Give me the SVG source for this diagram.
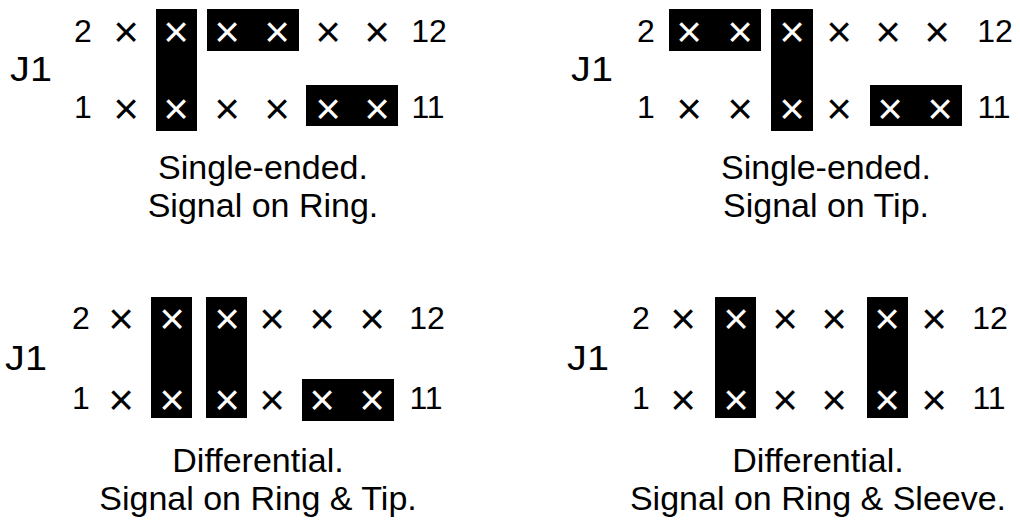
<svg xmlns="http://www.w3.org/2000/svg" width="1020" height="524" viewBox="0 0 1020 524">
<style>
text { font-family: "Liberation Sans", Arial, sans-serif; fill: #000; }
.d { font-size: 32px; text-anchor: middle; dominant-baseline: central; }
.j { font-size: 36px; text-anchor: middle; dominant-baseline: central; }
.x { font-size: 44px; text-anchor: middle; dominant-baseline: central; }
.w { fill: #fff; }
.cap { font-size: 34px; text-anchor: middle; }
.box { fill: #000; }
</style>
<rect width="1020" height="524" fill="#fff"/>

<g id="panel-tl">
  <rect class="box" x="156" y="9" width="41" height="122"/>
  <rect class="box" x="207" y="9" width="92" height="42"/>
  <rect class="box" x="306" y="85" width="92" height="41"/>
  <text class="j" transform="translate(31 69) scale(1.1 1)">J1</text>
  <text class="d" x="83" y="31">2</text>
  <text class="d" x="83" y="107">1</text>
  <text class="d" x="429" y="31">12</text>
  <text class="d" x="428" y="107">11</text>
  <text class="x" x="126" y="31">×</text>
  <text class="x w" x="176" y="31">×</text>
  <text class="x w" x="227" y="31">×</text>
  <text class="x w" x="277" y="31">×</text>
  <text class="x" x="328" y="31">×</text>
  <text class="x" x="377" y="31">×</text>
  <text class="x" x="126" y="108">×</text>
  <text class="x w" x="176" y="108">×</text>
  <text class="x" x="227" y="108">×</text>
  <text class="x" x="277" y="108">×</text>
  <text class="x w" x="328" y="108">×</text>
  <text class="x w" x="377" y="108">×</text>
  <text class="cap" x="263" y="179">Single-ended.</text>
  <text class="cap" x="263" y="217">Signal on Ring.</text>
</g>

<g id="panel-tr">
  <rect class="box" x="669" y="9" width="92" height="42"/>
  <rect class="box" x="771" y="9" width="42" height="122"/>
  <rect class="box" x="870" y="85" width="92" height="41"/>
  <text class="j" transform="translate(592 69) scale(1.1 1)">J1</text>
  <text class="d" x="646" y="31">2</text>
  <text class="d" x="646" y="107">1</text>
  <text class="d" x="995" y="31">12</text>
  <text class="d" x="994" y="107">11</text>
  <text class="x w" x="689" y="31">×</text>
  <text class="x w" x="740" y="31">×</text>
  <text class="x w" x="792" y="31">×</text>
  <text class="x" x="839" y="31">×</text>
  <text class="x" x="888" y="31">×</text>
  <text class="x" x="937" y="31">×</text>
  <text class="x" x="689" y="108">×</text>
  <text class="x" x="740" y="108">×</text>
  <text class="x w" x="792" y="108">×</text>
  <text class="x" x="839" y="108">×</text>
  <text class="x w" x="890" y="108">×</text>
  <text class="x w" x="940" y="108">×</text>
  <text class="cap" x="826" y="179">Single-ended.</text>
  <text class="cap" x="826" y="217">Signal on Tip.</text>
</g>

<g id="panel-bl">
  <rect class="box" x="151" y="297" width="41" height="121"/>
  <rect class="box" x="206" y="297" width="41" height="121"/>
  <rect class="box" x="302" y="379" width="92" height="42"/>
  <text class="j" transform="translate(26 358) scale(1.1 1)">J1</text>
  <text class="d" x="81" y="318">2</text>
  <text class="d" x="81" y="398">1</text>
  <text class="d" x="427" y="318">12</text>
  <text class="d" x="426" y="398">11</text>
  <text class="x" x="121" y="318">×</text>
  <text class="x w" x="172" y="318">×</text>
  <text class="x w" x="227" y="318">×</text>
  <text class="x" x="272" y="318">×</text>
  <text class="x" x="322" y="318">×</text>
  <text class="x" x="372" y="318">×</text>
  <text class="x" x="121" y="399">×</text>
  <text class="x w" x="172" y="399">×</text>
  <text class="x w" x="227" y="399">×</text>
  <text class="x" x="272" y="399">×</text>
  <text class="x w" x="322" y="399">×</text>
  <text class="x w" x="372" y="399">×</text>
  <text class="cap" x="258" y="472">Differential.</text>
  <text class="cap" x="258" y="510">Signal on Ring &amp; Tip.</text>
</g>

<g id="panel-br">
  <rect class="box" x="715" y="297" width="41" height="121"/>
  <rect class="box" x="867" y="297" width="41" height="121"/>
  <text class="j" transform="translate(588 358) scale(1.1 1)">J1</text>
  <text class="d" x="641" y="318">2</text>
  <text class="d" x="641" y="398">1</text>
  <text class="d" x="990" y="318">12</text>
  <text class="d" x="989" y="398">11</text>
  <text class="x" x="683" y="318">×</text>
  <text class="x w" x="736" y="318">×</text>
  <text class="x" x="785" y="318">×</text>
  <text class="x" x="834" y="318">×</text>
  <text class="x w" x="887" y="318">×</text>
  <text class="x" x="934" y="318">×</text>
  <text class="x" x="683" y="399">×</text>
  <text class="x w" x="736" y="399">×</text>
  <text class="x" x="785" y="399">×</text>
  <text class="x" x="834" y="399">×</text>
  <text class="x w" x="887" y="399">×</text>
  <text class="x" x="934" y="399">×</text>
  <text class="cap" x="818" y="472">Differential.</text>
  <text class="cap" x="818" y="510">Signal on Ring &amp; Sleeve.</text>
</g>
</svg>
